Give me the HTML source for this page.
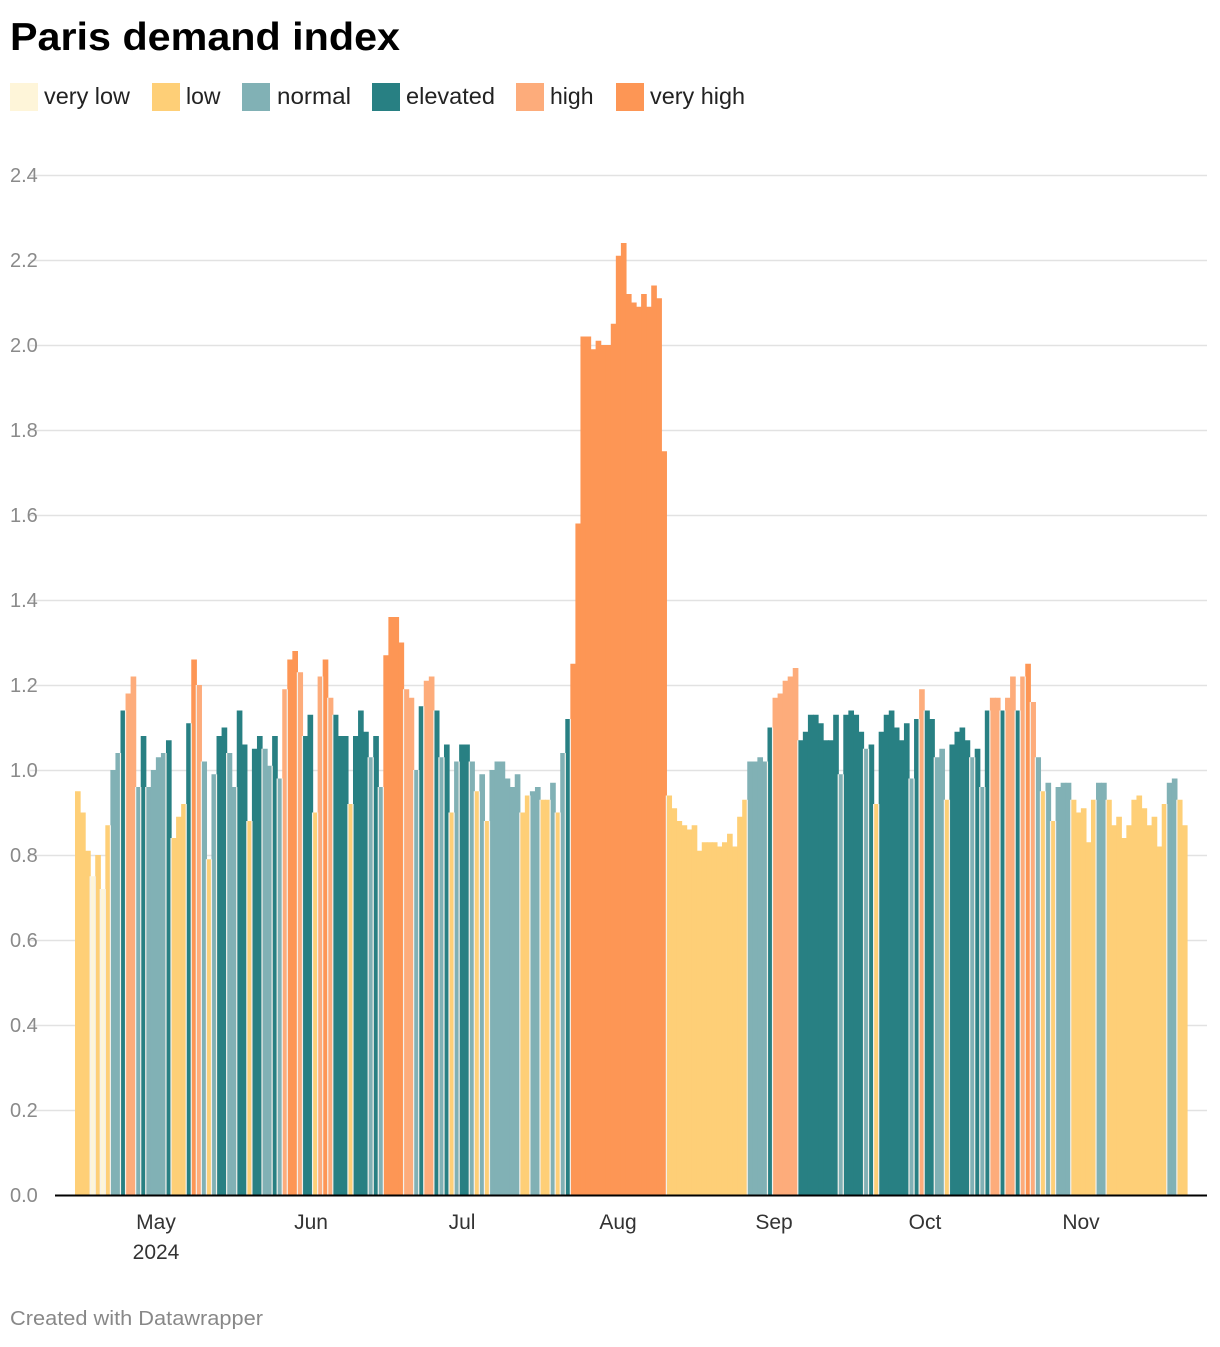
<!DOCTYPE html>
<html><head><meta charset="utf-8"><style>
body{margin:0;background:#fff;width:1220px;height:1342px;overflow:hidden;font-family:"Liberation Sans",sans-serif}
</style></head><body>
<svg id="s" width="1220" height="1342" xmlns="http://www.w3.org/2000/svg" font-family="Liberation Sans, sans-serif">
<text x="10" y="50" font-size="39" font-weight="bold" fill="#000" textLength="390" lengthAdjust="spacingAndGlyphs">Paris demand index</text>
<g font-size="23" fill="#222">
<rect x="10" y="83" width="28" height="28" fill="#fef5d9"/><text x="44" y="104" textLength="86" lengthAdjust="spacingAndGlyphs">very low</text>
<rect x="152" y="83" width="28" height="28" fill="#fecf77"/><text x="186" y="104">low</text>
<rect x="242" y="83" width="28" height="28" fill="#81b1b5"/><text x="277" y="104" textLength="74" lengthAdjust="spacingAndGlyphs">normal</text>
<rect x="372" y="83" width="28" height="28" fill="#288083"/><text x="406" y="104" textLength="89" lengthAdjust="spacingAndGlyphs">elevated</text>
<rect x="516" y="83" width="28" height="28" fill="#fdac7b"/><text x="550" y="104">high</text>
<rect x="616" y="83" width="28" height="28" fill="#fd9655"/><text x="650" y="104" textLength="95" lengthAdjust="spacingAndGlyphs">very high</text>
</g>
<g id="grid"></g>
<g id="bars"></g>
<line x1="55" y1="1195.5" x2="1207" y2="1195.5" stroke="#000" stroke-width="2"/>
<g font-size="21" fill="#333" text-anchor="middle">
<text x="156" y="1229">May</text><text x="156" y="1259">2024</text>
<text x="311" y="1229">Jun</text><text x="462" y="1229">Jul</text>
<text x="618" y="1229">Aug</text><text x="774" y="1229">Sep</text>
<text x="925" y="1229">Oct</text><text x="1081" y="1229">Nov</text>
</g>
<text x="10" y="1325" font-size="20" fill="#888" textLength="253" lengthAdjust="spacingAndGlyphs">Created with Datawrapper</text>
</svg>
<script>
var NS="http://www.w3.org/2000/svg",s=document.getElementById('grid');
for(var k=0;k<=12;k++){var y=1195-85*k;
 if(k>0){var l=document.createElementNS(NS,'line');l.setAttribute('x1',30);l.setAttribute('x2',1207);l.setAttribute('y1',y+.5);l.setAttribute('y2',y+.5);l.setAttribute('stroke','#e2e2e2');l.setAttribute('stroke-width',1.5);s.appendChild(l);}
 var t=document.createElementNS(NS,'text');t.setAttribute('x',10);t.setAttribute('y',y+7);t.setAttribute('font-size',20);t.setAttribute('fill','#8a8a8a');t.textContent=(k*0.2).toFixed(1);s.appendChild(t);}
var C={v:'#fef5d9',l:'#fecf77',n:'#81b1b5',e:'#288083',h:'#fdac7b',H:'#fd9655'};
var d="0.95l 0.90l 0.81l 0.75v 0.80l 0.72v 0.87l 1.00n 1.04n 1.14e 1.18h 1.22h 0.96n 1.08e 0.96n 1.00n 1.03n 1.04n 1.07e 0.84l 0.89l 0.92l 1.11e 1.26H 1.20h 1.02n 0.79l 0.99n 1.08e 1.10e 1.04n 0.96n 1.14e 1.06e 0.88l 1.05e 1.08e 1.05n 1.01n 1.08e 0.98n 1.19h 1.26H 1.28H 1.23h 1.08e 1.13e 0.90l 1.22h 1.26H 1.17h 1.13e 1.08e 1.08e 0.92l 1.08e 1.14e 1.09e 1.03n 1.08e 0.96n 1.27H 1.36H 1.36H 1.30H 1.19h 1.17h 1.00n 1.15e 1.21h 1.22h 1.14e 1.03n 1.06e 0.90l 1.02n 1.06e 1.06e 1.02n 0.95l 0.99n 0.88l 1.00n 1.02n 1.02n 0.98n 0.96n 0.99n 0.90l 0.94l 0.95n 0.96n 0.93l 0.93l 0.97n 0.90l 1.04n 1.12e 1.25H 1.58H 2.02H 2.02H 1.99H 2.01H 2.00H 2.00H 2.05H 2.21H 2.24H 2.12H 2.10H 2.09H 2.12H 2.09H 2.14H 2.11H 1.75H 0.94l 0.91l 0.88l 0.87l 0.86l 0.87l 0.81l 0.83l 0.83l 0.83l 0.82l 0.83l 0.85l 0.82l 0.89l 0.93l 1.02n 1.02n 1.03n 1.02n 1.10e 1.17h 1.18h 1.21h 1.22h 1.24h 1.07e 1.09e 1.13e 1.13e 1.11e 1.07e 1.07e 1.13e 0.99n 1.13e 1.14e 1.13e 1.09e 1.05n 1.06e 0.92l 1.09e 1.13e 1.14e 1.10e 1.07e 1.11e 0.98n 1.12e 1.19h 1.14e 1.12e 1.03n 1.05n 0.93l 1.06e 1.09e 1.10e 1.07e 1.03n 1.05e 0.96n 1.14e 1.17h 1.17h 1.14e 1.17h 1.22h 1.14e 1.22h 1.25H 1.16h 1.03n 0.95l 0.97n 0.88l 0.96n 0.97n 0.97n 0.93l 0.90l 0.91l 0.83l 0.93l 0.97n 0.97n 0.93l 0.87l 0.89l 0.84l 0.87l 0.93l 0.94l 0.91l 0.87l 0.89l 0.82l 0.92l 0.97n 0.98n 0.93l 0.87l".split(' ');
var b=document.getElementById('bars'),n=d.length,x0=75,x1=1187,w=(x1-x0)/n;
for(var i=0;i<n;i++){var v=parseFloat(d[i]),c=d[i].slice(-1),h=v*425;
 var r=document.createElementNS(NS,'rect');r.setAttribute('x',x0+i*w);r.setAttribute('y',1195-h);r.setAttribute('width',w+0.6);r.setAttribute('height',h);
 r.setAttribute('fill',C[c]);b.appendChild(r);}
for(var i=1;i<n;i++){var c0=d[i-1].slice(-1),c1=d[i].slice(-1);if(c0==c1)continue;
 var hh=Math.min(parseFloat(d[i-1]),parseFloat(d[i]))*425;
 var l=document.createElementNS(NS,'rect');l.setAttribute('x',x0+i*w-0.6);l.setAttribute('y',1195-hh);l.setAttribute('width',1.2);l.setAttribute('height',hh);l.setAttribute('fill','#f3f1ec');b.appendChild(l);}
</script>
</body></html>
